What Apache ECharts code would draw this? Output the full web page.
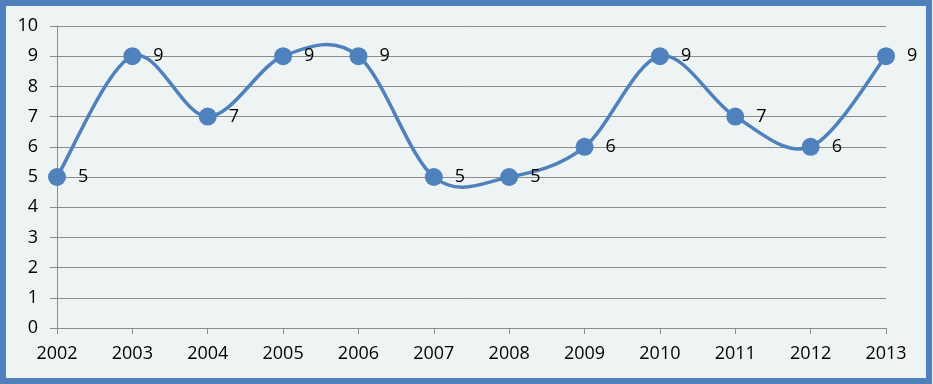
<!DOCTYPE html>
<html>
<head>
<meta charset="utf-8">
<script src="https://cdn.jsdelivr.net/npm/echarts@6/dist/echarts.min.js"></script>
<style>html,body{margin:0;padding:0;}#c{width:933px;height:384px;}</style>
</head>
<body>
<div id="c"></div>
<script>
const years = ['2002','2003','2004','2005','2006','2007','2008','2009','2010','2011','2012','2013'];
const values = [5, 9, 7, 9, 9, 5, 5, 6, 9, 7, 6, 9];
const yTicks = [0, 10, 1];

const lineColor = '#4F81BD';
const gridColor = '#8C8C8C';
const font = 'Open Sans';

function renderSmooth(params, api) {
  if (params.dataIndex !== 0) return null;
  const pts = values.map((v, i) => api.coord([i, v]));
  const n = pts.length;
  const children = [];
  for (let i = 0; i < n - 1; i++) {
    const p0 = pts[Math.max(i - 1, 0)];
    const p1 = pts[i];
    const p2 = pts[i + 1];
    const p3 = pts[Math.min(i + 2, n - 1)];
    children.push({
      type: 'bezierCurve',
      shape: {
        x1: p1[0], y1: p1[1],
        cpx1: p1[0] + (p2[0] - p0[0]) / 6, cpy1: p1[1] + (p2[1] - p0[1]) / 6,
        cpx2: p2[0] - (p3[0] - p1[0]) / 6, cpy2: p2[1] - (p3[1] - p1[1]) / 6,
        x2: p2[0], y2: p2[1]
      },
      style: { fill: 'none', stroke: lineColor, lineWidth: 3.5, lineCap: 'round' }
    });
  }
  return { type: 'group', children: children };
}

const chart = echarts.init(document.getElementById('c'));
chart.setOption({
  backgroundColor: '#EEF3F3',
  animation: false,
  textStyle: { fontFamily: font },
  graphic: [{
    type: 'rect', z: 100, silent: true,
    shape: { x: 3, y: 3, width: 926, height: 378 },
    style: { fill: 'none', stroke: '#4F81BD', lineWidth: 6 }
  }],
  grid: { left: 57, right: 47, top: 26, bottom: 56 },
  xAxis: {
    type: 'category', data: years, boundaryGap: false,
    axisLine: { lineStyle: { color: gridColor, width: 1 } },
    axisTick: { show: true, length: 6, alignWithLabel: true, lineStyle: { color: gridColor } },
    axisLabel: { color: '#000', fontSize: 18, margin: 17, fontFamily: font },
    splitLine: { show: false }
  },
  yAxis: {
    type: 'value', min: yTicks[0], max: yTicks[1], interval: yTicks[2],
    axisLine: { show: true, lineStyle: { color: gridColor, width: 1 } },
    axisTick: { show: true, length: 7, lineStyle: { color: gridColor } },
    axisLabel: { color: '#000', fontSize: 18, margin: 19, fontFamily: font },
    splitLine: { show: true, lineStyle: { color: gridColor, width: 1 } }
  },
  series: [{
    type: 'custom', z: 2,
    data: values.map((v, i) => [i, v]),
    encode: { x: 0, y: 1 },
    renderItem: renderSmooth,
    silent: true
  }, {
    type: 'line', data: values, z: 3,
    symbol: 'circle', symbolSize: 18,
    lineStyle: { width: 0, opacity: 0 },
    itemStyle: { color: lineColor },
    label: { show: true, position: 'right', distance: 12, color: '#000', fontSize: 18, fontFamily: font }
  }]
});
</script>
</body>
</html>
